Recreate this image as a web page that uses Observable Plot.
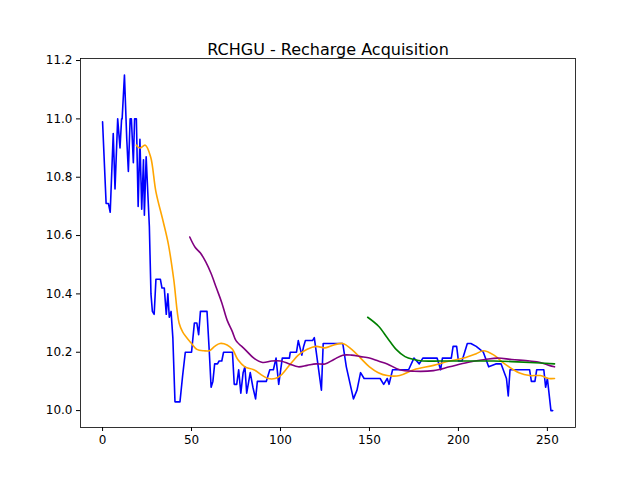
<!DOCTYPE html>
<html>
<head>
<meta charset="utf-8">
<script src="https://cdn.jsdelivr.net/npm/d3@7"></script>
<script src="https://cdn.jsdelivr.net/npm/@observablehq/plot@0.6"></script>
<style>
  body { margin: 0; background: #fff; }
  svg { font-family: "DejaVu Sans", sans-serif; }
</style>
</head>
<body>
<div id="chart"></div>
<script>
// price (x, close)
const priceX = [
  0, 2, 3.3, 4.3, 6, 7, 8.5, 9.8, 10.7, 11,
  12.3, 13.6, 14.5, 15.5, 16.2, 17.3, 18, 19, 20, 21,
  22, 23, 23.5, 24.5, 26.3, 27.2, 28, 29, 30, 32.5,
  33.4, 34.7, 35.8, 36.7, 37.5, 38.5, 39.5, 40.7, 43.5, 45,
  46.5, 50, 51.6, 53, 54, 55, 57.5, 58.7, 60, 61,
  62, 63, 64.6, 65.5, 67, 68, 73, 74, 75.4, 76.5,
  77.7, 79, 80, 81, 83, 84.5, 86, 87, 92, 94,
  96, 97.5, 99, 101, 105, 105.5, 109, 110, 112, 113,
  114, 118, 119, 121, 123, 124, 135, 137, 141, 143,
  145, 147, 156, 158, 160, 161, 163, 172, 175, 178,
  180, 188, 190, 191, 196, 197, 199, 200, 202, 205,
  207, 210, 214, 217, 221, 224, 227, 228, 229, 240,
  241, 243, 244, 248, 249, 250, 252, 253
];
const priceY = [
  10.99, 10.71, 10.71, 10.68, 10.95, 10.76, 11.00, 10.90, 11.00, 11.00,
  11.15, 10.93, 10.82, 11.00, 11.00, 10.85, 11.00, 11.00, 10.70, 10.93,
  10.69, 10.86, 10.67, 10.87, 10.63, 10.40, 10.34, 10.33, 10.45, 10.45,
  10.42, 10.42, 10.33, 10.40, 10.32, 10.34, 10.25, 10.03, 10.03, 10.12,
  10.20, 10.20, 10.30, 10.30, 10.26, 10.34, 10.34, 10.34, 10.20, 10.08,
  10.10, 10.16, 10.16, 10.17, 10.17, 10.20, 10.20, 10.09, 10.09, 10.14,
  10.06, 10.13, 10.15, 10.06, 10.13, 10.08, 10.04, 10.10, 10.10, 10.14,
  10.14, 10.18, 10.09, 10.18, 10.18, 10.20, 10.20, 10.24, 10.19, 10.22,
  10.24, 10.24, 10.25, 10.16, 10.07, 10.23, 10.23, 10.15, 10.04, 10.07,
  10.13, 10.11, 10.11, 10.09, 10.11, 10.09, 10.14, 10.14, 10.18, 10.16,
  10.18, 10.18, 10.14, 10.18, 10.18, 10.22, 10.22, 10.17, 10.17, 10.23,
  10.23, 10.22, 10.20, 10.15, 10.16, 10.16, 10.11, 10.05, 10.14, 10.14,
  10.10, 10.10, 10.14, 10.14, 10.08, 10.11, 10.00, 10.00
];

const ma20X = [19,21,24,27,30,34,37,40,43,45,50,53,57,60,63,66,70,73,76,80,85,90,93,97,100,103,107,110,115,120,125,130,135,140,145,150,155,160,167,175,186,195,203,210,214,220,226,234,240,246,251,254];
const ma20Y = [10.91,10.90,10.91,10.87,10.75,10.65,10.57,10.45,10.30,10.27,10.23,10.21,10.205,10.205,10.22,10.23,10.225,10.21,10.175,10.15,10.14,10.12,10.11,10.11,10.12,10.14,10.17,10.19,10.21,10.22,10.215,10.225,10.23,10.21,10.18,10.15,10.13,10.12,10.12,10.14,10.155,10.17,10.18,10.195,10.205,10.19,10.16,10.13,10.12,10.12,10.11,10.11];

const ma50X = [49,52,55,58,61,64,67,70,73,75,80,85,90,95,100,105,110,115,120,125,130,135,140,145,150,155,160,167,175,186,195,205,215,222,230,240,246,251,254];
const ma50Y = [10.595,10.56,10.54,10.51,10.47,10.42,10.37,10.31,10.27,10.24,10.21,10.18,10.165,10.17,10.17,10.16,10.15,10.155,10.16,10.16,10.175,10.19,10.19,10.185,10.18,10.17,10.16,10.14,10.135,10.137,10.15,10.165,10.175,10.18,10.175,10.17,10.165,10.155,10.15];

const ma150X = [149,155,160,165,170,175,180,190,200,210,220,230,240,254];
const ma150Y = [10.32,10.29,10.25,10.21,10.185,10.175,10.17,10.17,10.17,10.17,10.17,10.168,10.165,10.16];

const yTicks = [10.0,10.2,10.4,10.6,10.8,11.0,11.2];
const xTicks = [0,50,100,150,200,250];

const toRows = (xs, ys) => xs.map((x, i) => ({x, y: ys[i]}));

const p = Plot.plot({
    width: 640,
    height: 480,
    marginTop: 58,
    marginBottom: 53,
    marginLeft: 80,
    marginRight: 65,
    style: { fontSize: "12px", fontFamily: "DejaVu Sans, sans-serif", color: "#000" },
    x: { domain: [-12.4, 265.8], ticks: xTicks, tickFormat: d => d, label: null },
    y: { domain: [9.942, 11.207], ticks: yTicks, tickFormat: d3.format(".1f"), label: null },
    marks: [
        Plot.axisX({ ticks: xTicks, tickSize: 4, tickPadding: 4, fontSize: 12 }),
        Plot.axisY({ ticks: yTicks, tickSize: 4, tickPadding: 4, fontSize: 12, tickFormat: d3.format(".1f") }),
        Plot.line(toRows(priceX, priceY), { x: 'x', y: 'y', stroke: 'blue', strokeWidth: 1.6 }),
        Plot.line(toRows(ma20X, ma20Y), { x: 'x', y: 'y', stroke: 'orange', strokeWidth: 1.6, curve: 'catmull-rom' }),
        Plot.line(toRows(ma50X, ma50Y), { x: 'x', y: 'y', stroke: 'purple', strokeWidth: 1.6, curve: 'catmull-rom' }),
        Plot.line(toRows(ma150X, ma150Y), { x: 'x', y: 'y', stroke: 'green', strokeWidth: 1.6, curve: 'catmull-rom' }),
        Plot.frame({ stroke: '#000', strokeWidth: 0.8 }),
        Plot.text(['RCHGU - Recharge Acquisition'], { frameAnchor: 'top', dy: -15, fontSize: 16, fill: '#000' })
    ]
});

d3.select(p).attr('id', 'chart1');
document.getElementById('chart').appendChild(p);
</script>
</body>
</html>
